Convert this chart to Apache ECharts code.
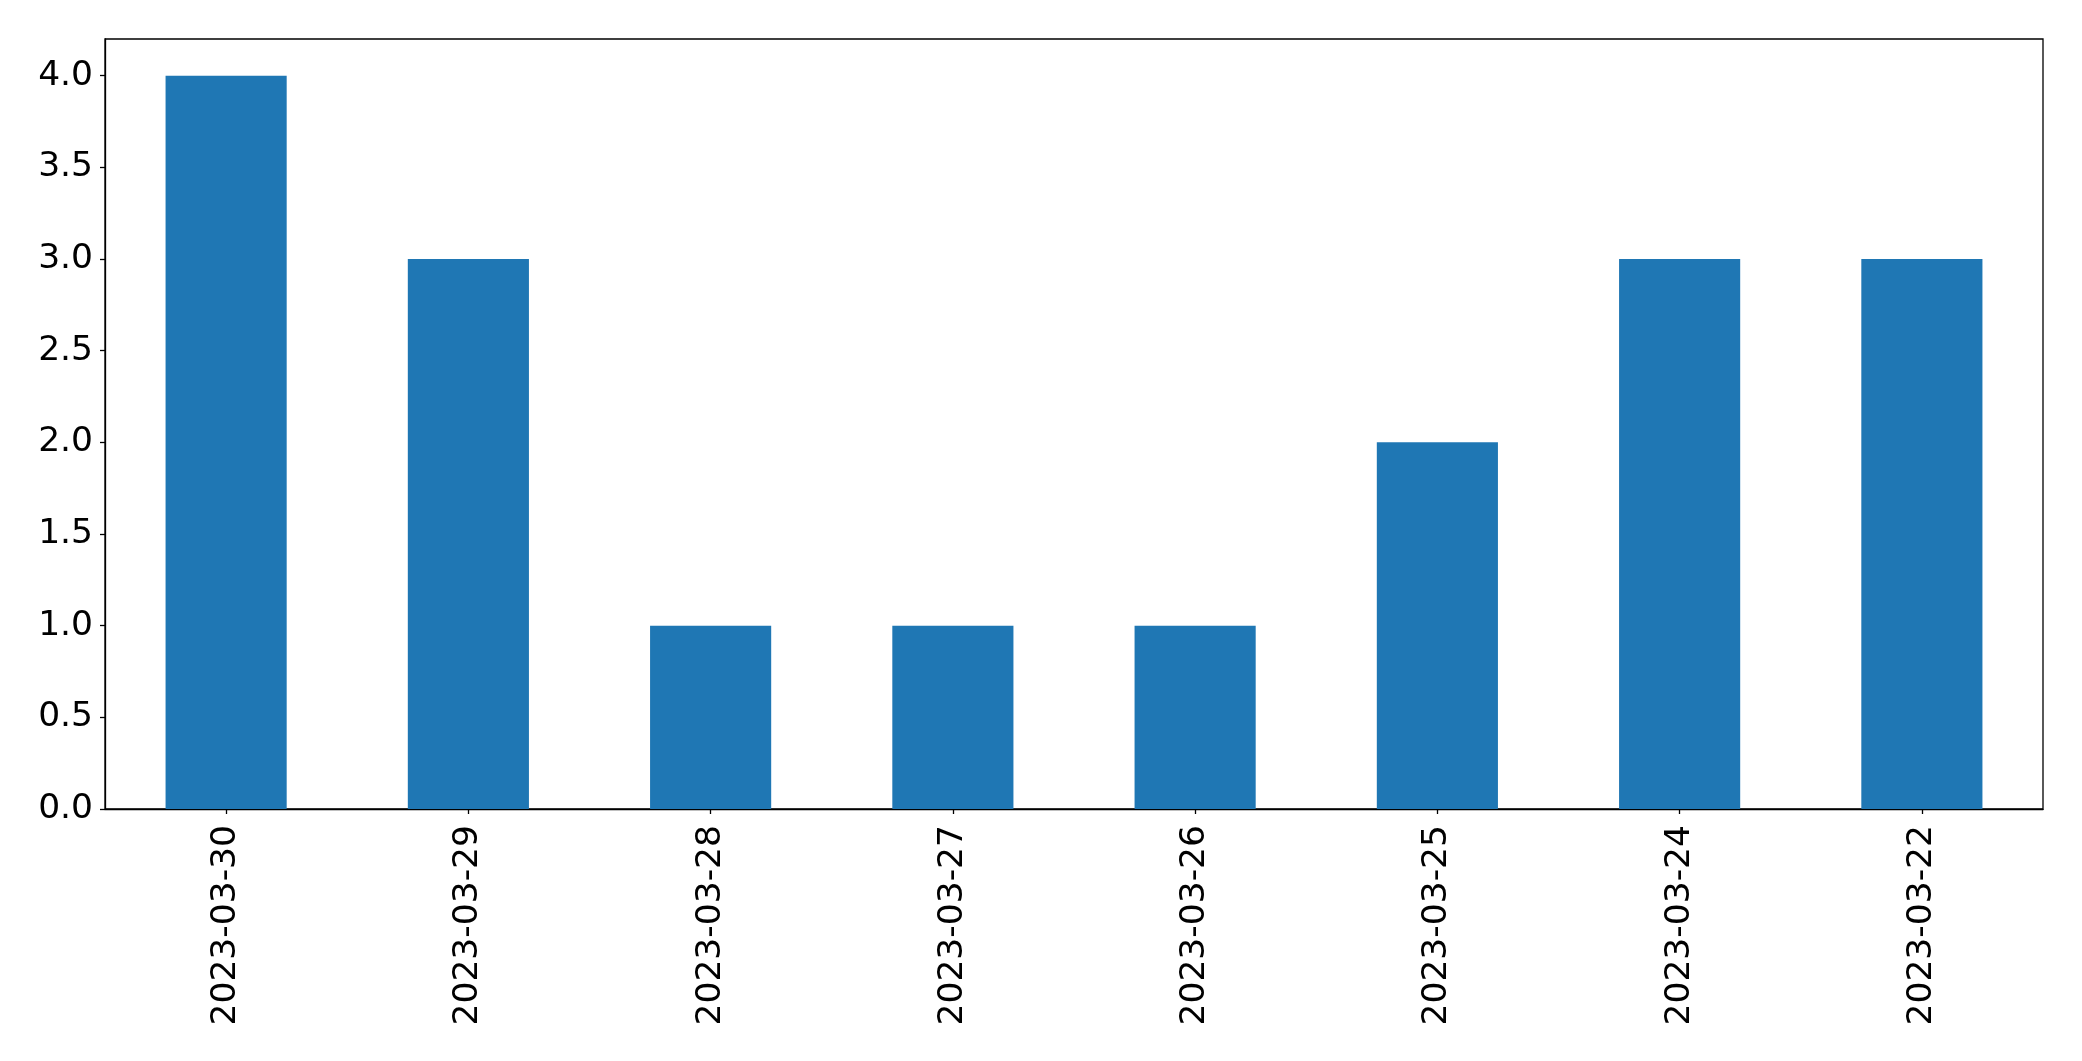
<!DOCTYPE html>
<html>
<head>
<meta charset="utf-8">
<script src="https://cdn.jsdelivr.net/npm/echarts@6/dist/echarts.min.js"></script>
<style>html,body{margin:0;padding:0;background:#fff;}#c{width:2082px;height:1061px;}</style>
</head>
<body>
<div id="c"></div>
<script>
const categories = ['2023-03-30','2023-03-29','2023-03-28','2023-03-27','2023-03-26','2023-03-25','2023-03-24','2023-03-22'];
const values = [4, 3, 1, 1, 1, 2, 3, 3];
const yTicks = [0, 0.5, 1, 1.5, 2, 2.5, 3, 3.5, 4];

const chart = echarts.init(document.getElementById('c'));
const font = 'DejaVu Sans';
chart.setOption({
  animation: false,
  backgroundColor: '#fff',
  grid: { left: 105, right: 39, top: 39, bottom: 252, show: true, borderColor: '#000', borderWidth: 1.3, backgroundColor: 'transparent' },
  xAxis: {
    type: 'category',
    data: categories,
    axisLine: { show: true, lineStyle: { color: '#000', width: 1.3 } },
    axisTick: { show: true, alignWithLabel: true, length: 5, lineStyle: { color: '#000', width: 1.3 } },
    axisLabel: { rotate: 90, margin: 16, fontFamily: font, fontSize: 34.5, color: '#000' },
    splitLine: { show: false }
  },
  yAxis: {
    type: 'value',
    min: 0, max: 4.2, interval: 0.5,
    axisLine: { show: true, lineStyle: { color: '#000', width: 1.3 } },
    axisTick: { show: true, length: 5, customValues: yTicks, lineStyle: { color: '#000', width: 1.3 } },
    axisLabel: { margin: 12, fontFamily: font, fontSize: 34.5, color: '#000', customValues: yTicks,
      padding: [5, 0, 0, 0],
      formatter: v => v.toFixed(1) },
    splitLine: { show: false }
  },
  series: [{
    type: 'bar',
    data: values,
    barWidth: '50%',
    itemStyle: { color: '#1f77b4' }
  }]
});
</script>
</body>
</html>
